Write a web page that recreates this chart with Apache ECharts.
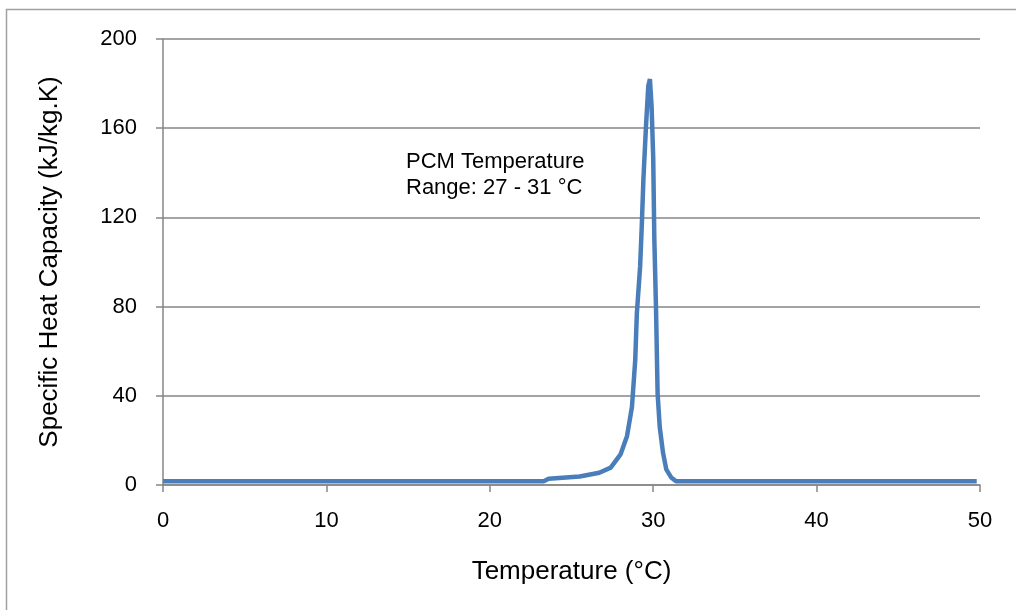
<!DOCTYPE html>
<html>
<head>
<meta charset="utf-8">
<script src="https://cdn.jsdelivr.net/npm/echarts@6/dist/echarts.min.js"></script>
<style>
  html, body { margin: 0; padding: 0; background: #fff; }
  #chart { width: 1016px; height: 610px; }
</style>
</head>
<body>
<div id="chart"></div>
<script>
// temperature (°C) and specific heat capacity (kJ/kg.K)
const temps = [0, 10, 20, 23.3, 23.6, 25.5, 26.7, 27.4, 28.0, 28.4, 28.7, 28.9, 29.0, 29.2, 29.3, 29.4, 29.56, 29.7, 29.8, 29.9, 30.0, 30.07, 30.17, 30.27, 30.4, 30.6, 30.8, 31.1, 31.4, 40, 49.8]
const heatCap = [1.7, 1.7, 1.7, 1.7, 2.8, 3.8, 5.5, 7.8, 13.7, 22, 35, 56, 77, 98, 116, 137, 161, 179, 182, 170, 147, 110, 80, 41, 26, 14.5, 7, 3.4, 1.7, 1.7, 1.7]
const xTicks = [0, 10, 20, 30, 40, 50]
const yTicks = [0, 40, 80, 120, 160, 200]

const font = 'Liberation Sans, Arial, sans-serif'
const chart = echarts.init(document.getElementById('chart'))

let points = temps.map((t, i) => [t, heatCap[i]])

let option = {
    backgroundColor: '#fff',
    animation: false,
    grid: { left: 163, right: 36, top: 39, bottom: 125 },
    graphic: [
        {
            type: 'rect',
            shape: { x: 6.5, y: 9.5, width: 1100, height: 700 },
            style: { fill: 'none', stroke: '#a0a0a0', lineWidth: 1.5 },
            silent: true
        },
        {
            type: 'text',
            left: 406,
            top: 149,
            style: {
                text: 'PCM Temperature\nRange: 27 - 31 °C',
                font: '22px ' + font,
                fill: '#000',
                lineHeight: 26
            }
        }
    ],
    xAxis: {
        type: 'value',
        min: xTicks[0],
        max: xTicks[xTicks.length - 1],
        interval: 10,
        name: 'Temperature (°C)',
        nameLocation: 'middle',
        nameGap: 74,
        nameTextStyle: { fontFamily: font, fontSize: 26, color: '#000' },
        axisLine: { lineStyle: { color: '#868686', width: 1.5 } },
        axisTick: { show: true, length: 7, lineStyle: { color: '#868686', width: 1.5 } },
        axisLabel: { fontFamily: font, fontSize: 22, color: '#000', margin: 25 },
        splitLine: { show: false }
    },
    yAxis: {
        type: 'value',
        min: yTicks[0],
        max: yTicks[yTicks.length - 1],
        interval: 40,
        name: 'Specific Heat Capacity (kJ/kg.K)',
        nameLocation: 'middle',
        nameGap: 100,
        nameTextStyle: { fontFamily: font, fontSize: 26, color: '#000' },
        axisLine: { show: true, lineStyle: { color: '#868686', width: 1.5 } },
        axisTick: { show: true, length: 7, lineStyle: { color: '#868686', width: 1.5 } },
        axisLabel: { fontFamily: font, fontSize: 22, color: '#000', margin: 26 },
        splitLine: { show: true, lineStyle: { color: '#868686', width: 1.5 } }
    },
    series: [{
        type: 'line',
        data: points,
        showSymbol: false,
        smooth: false,
        lineStyle: { color: '#4a7ebb', width: 4.5 }
    }]
}
chart.setOption(option)
</script>
</body>
</html>
